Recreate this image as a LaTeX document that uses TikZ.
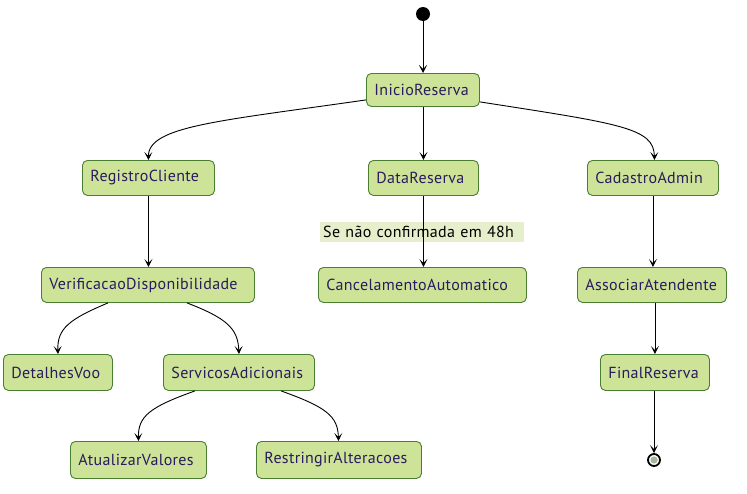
\documentclass[tikz,border=0pt]{standalone}
\usepackage{fontspec}
\setmainfont{PT Sans}[LetterSpace=2]
\usetikzlibrary{arrows.meta,calc}
\definecolor{stfill}{HTML}{CDE498}
\definecolor{stdraw}{HTML}{4A7F32}
\definecolor{sttext}{HTML}{2A1A5E}
\definecolor{lblfill}{HTML}{E6EFCB}
\definecolor{endfill}{HTML}{A9B59C}
\tikzset{
  st/.style={draw=stdraw, fill=stfill, line width=0.9pt, rounded corners=5pt,
    text=sttext, font=\fontsize{16}{18}\selectfont, inner xsep=8pt, inner ysep=0pt,
    align=left, anchor=north west},
  tr/.style={draw=black, line width=0.9pt, -{Stealth[length=8pt,width=8pt,inset=4pt]}},
}
\newcommand{\stnode}[6]{\node[st, minimum width=#4pt, minimum height=#5pt, text width=#4pt-16pt] (#1) at (#2,#3) {#6};}
\begin{document}
\begin{tikzpicture}[x=1pt,y=-1pt]
\useasboundingbox (0,0) rectangle (747,493);
\fill[white] (0,0) rectangle (747,493);
% start / end
\node[circle, fill=black, minimum size=14pt, inner sep=0pt] (start) at (423,14) {};
\node[circle, draw=black, line width=1.8pt, fill=white, minimum size=12pt, inner sep=0pt] (stop) at (654,460) {};
\fill[endfill] (stop) circle (3.6pt);
% states
\stnode{inicio}{366}{73}{113}{33}{InicioReserva}
\stnode{registro}{82}{160}{132}{35}{RegistroCliente}
\stnode{data}{368}{160}{110}{35}{DataReserva}
\stnode{cadastro}{587}{160}{131}{35}{CadastroAdmin}
\stnode{verif}{41}{267}{213}{35}{VerificacaoDisponibilidade}
\stnode{cancel}{318}{267}{208}{35}{CancelamentoAutomatico}
\stnode{associar}{577}{267}{149}{35}{AssociarAtendente}
\stnode{detalhes}{3}{354}{109}{36}{DetalhesVoo}
\stnode{servicos}{163}{354}{151}{36}{ServicosAdicionais}
\stnode{final}{600}{354}{109}{36}{FinalReserva}
\stnode{atualizar}{70}{441}{136}{37}{AtualizarValores}
\stnode{restringir}{256}{441}{165}{37}{RestringirAlteracoes}
% edge label
\node[fill=lblfill, anchor=north west, minimum width=204pt, minimum height=20pt, inner xsep=3pt, inner ysep=0pt, text width=198pt, align=left, font=\fontsize{16}{18}\selectfont] (lbl) at (320,222) {Se não confirmada em 48h};
% transitions
\draw[tr] (start) -- (inicio.north -| start);
\draw[tr] (inicio.south -| data.north) -- (data.north);
\draw[tr] (data.south) -- (cancel.north -| data.south);
\draw[tr] (registro.south) -- (verif.north -| registro.south);
\draw[tr] (cadastro.south) -- (associar.north -| cadastro.south);
\draw[tr] (associar.south -| final.north) -- (final.north);
\draw[tr] (final.south -| stop) -- (stop.north);
\draw[tr] ($(inicio.south west)+(0,-7)$) .. controls (220,121) and (148,126) .. (registro.north);
\draw[tr] ($(inicio.south east)+(0,-5)$) .. controls (622,124) and (654,128) .. ($(cadastro.north)+(1.5,0)$);
\draw[tr] ($(verif.south west)+(67,0)$) .. controls (70,319) and (57,328) .. (detalhes.north);
\draw[tr] ($(verif.south west)+(146,0)$) .. controls (226,318) and (238,328) .. (servicos.north);
\draw[tr] ($(servicos.south west)+(32,0)$) .. controls (150,407) and (138,416) .. (atualizar.north);
\draw[tr] ($(servicos.south west)+(118,0)$) .. controls (326,407) and (338,416) .. ($(restringir.north)+(-0.5,0)$);
\end{tikzpicture}
\end{document}
